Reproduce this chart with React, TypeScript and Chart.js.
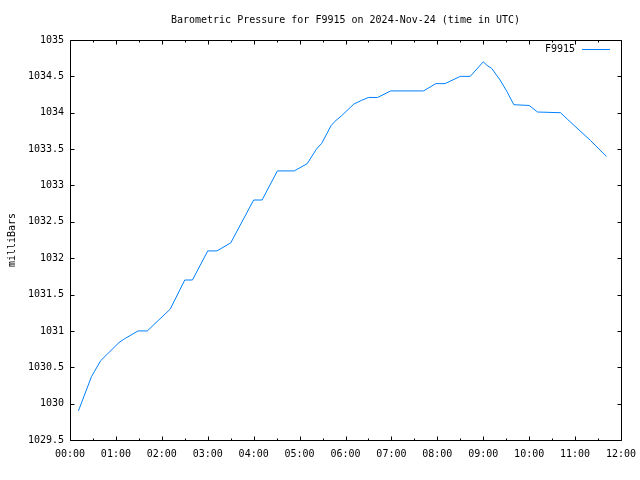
import React, { useEffect, useRef } from "react";
import { Chart, registerables } from "chart.js";

Chart.register(...registerables);

const TITLE = "Barometric Pressure for F9915 on 2024-Nov-24 (time in UTC)";
const SERIES_LABEL = "F9915";
const Y_LABEL = "milliBars";

// time in minutes after 00:00 UTC
const times: number[] = [
  11, 28, 40, 64, 71, 89, 101, 131, 150, 160, 180, 192, 210, 240, 251, 271, 293,
  310, 322, 329, 341, 346, 355, 371, 381, 390, 402, 419, 462, 478, 490, 510, 523,
  540, 545, 551, 562, 571, 580, 600, 611, 641, 650, 680, 701,
];
// pressure in millibars
const pressures: number[] = [
  1029.9, 1030.37, 1030.59, 1030.84, 1030.89, 1031.0, 1031.0, 1031.3, 1031.7,
  1031.7, 1032.1, 1032.1, 1032.21, 1032.8, 1032.8, 1033.2, 1033.2, 1033.3,
  1033.5, 1033.58, 1033.82, 1033.88, 1033.96, 1034.12, 1034.17, 1034.21,
  1034.21, 1034.3, 1034.3, 1034.4, 1034.4, 1034.5, 1034.5, 1034.7, 1034.65,
  1034.61, 1034.45, 1034.29, 1034.11, 1034.1, 1034.01, 1034.0, 1033.91,
  1033.62, 1033.4,
];

const X_MIN = 0;
const X_MAX = 720;
const X_STEP = 30;
const Y_MIN = 1029.5;
const Y_MAX = 1035;
const Y_STEP = 0.5;

const FONT = "'DejaVu Sans Mono', monospace";
const LINE_COLOR = "#0080ff";

function hhmm(m: number): string {
  const h = Math.floor(m / 60);
  return (h < 10 ? "0" : "") + h + ":00";
}

const framePlugin = {
  id: "gnuplotFrame",
  afterDraw(chart: any) {
    const { ctx, chartArea } = chart;
    const { left, right, top, bottom } = chartArea;
    const xs = chart.scales.x;
    const ys = chart.scales.y;
    ctx.save();
    ctx.strokeStyle = "#000";
    ctx.lineWidth = 1;
    const L = Math.round(left) + 0.5;
    const R = Math.round(right) + 0.5;
    const T = Math.round(top) + 0.5;
    const B = Math.round(bottom) + 0.5;
    ctx.beginPath();
    ctx.rect(L, T, R - L, B - T);
    ctx.stroke();
    ctx.beginPath();
    for (let v = X_MIN; v <= X_MAX; v += X_STEP) {
      const px = Math.round(xs.getPixelForValue(v)) + 0.5;
      const len = v % 60 === 0 ? 4 : 2;
      ctx.moveTo(px, B);
      ctx.lineTo(px, B - len);
      ctx.moveTo(px, T);
      ctx.lineTo(px, T + len);
    }
    for (let v = Y_MIN; v <= Y_MAX + 1e-9; v += Y_STEP) {
      const py = Math.round(ys.getPixelForValue(v)) + 0.5;
      ctx.moveTo(L, py);
      ctx.lineTo(L + 4, py);
      ctx.moveTo(R, py);
      ctx.lineTo(R - 4, py);
    }
    ctx.stroke();
    // title, centred over the plot area
    ctx.font = "10px " + FONT;
    ctx.fillStyle = "#000";
    ctx.textAlign = "center";
    ctx.textBaseline = "middle";
    ctx.fillText(TITLE, (left + right) / 2, 20);
    // legend
    const ds = chart.data.datasets[0];
    ctx.textAlign = "right";
    ctx.fillText(ds.label, 575, 49);
    ctx.strokeStyle = ds.borderColor;
    ctx.beginPath();
    ctx.moveTo(582, 49.5);
    ctx.lineTo(610, 49.5);
    ctx.stroke();
    ctx.restore();
  },
};

export default function App() {
  const ref = useRef<HTMLCanvasElement | null>(null);
  useEffect(() => {
    if (!ref.current) return;
    const data = times.map((t, i) => ({ x: t, y: pressures[i] }));
    const chart = new Chart(ref.current, {
      type: "line",
      data: {
        datasets: [
          {
            label: SERIES_LABEL,
            data,
            borderColor: LINE_COLOR,
            borderWidth: 1,
            pointRadius: 0,
            tension: 0,
            fill: false,
          },
        ],
      },
      options: {
        animation: false,
        responsive: false,
        maintainAspectRatio: false,
        layout: { padding: { left: 0, right: 19, top: 40, bottom: 0 } },
        plugins: {
          legend: { display: false },
          tooltip: { enabled: false },
          title: { display: false },
        },
        scales: {
          x: {
            type: "linear",
            min: X_MIN,
            max: X_MAX,
            afterFit(scale: any) {
              scale.height = 40;
              scale.paddingLeft = 0;
              scale.paddingRight = 0;
            },
            border: { display: false },
            grid: { display: true, drawOnChartArea: false, drawTicks: false, color: "rgba(0,0,0,0)" },
            ticks: {
              stepSize: X_STEP,
              autoSkip: false,
              maxRotation: 0,
              minRotation: 0,
              padding: 8,
              color: "#000",
              font: { family: FONT, size: 10 },
              callback: (v: any) => (Number(v) % 60 === 0 ? hhmm(Number(v)) : ""),
            },
          },
          y: {
            type: "linear",
            min: Y_MIN,
            max: Y_MAX,
            afterFit(scale: any) {
              scale.width = 70;
            },
            border: { display: false },
            grid: { display: true, drawOnChartArea: false, drawTicks: false, color: "rgba(0,0,0,0)" },
            title: {
              display: true,
              text: Y_LABEL,
              color: "#000",
              font: { family: FONT, size: 10, lineHeight: 1.2 },
              padding: { top: 6, bottom: 0 },
            },
            ticks: {
              stepSize: Y_STEP,
              autoSkip: false,
              padding: 6,
              color: "#000",
              font: { family: FONT, size: 10 },
              callback: (v: any) => String(Number(v)),
            },
          },
        },
      },
      plugins: [framePlugin],
    });
    return () => chart.destroy();
  }, []);
  return (
    <div style={{ position: "absolute", left: 0, top: 0, width: 640, height: 480, background: "#fff" }}>
      <canvas ref={ref} width={640} height={480} style={{ display: "block", width: 640, height: 480 }} />
    </div>
  );
}
